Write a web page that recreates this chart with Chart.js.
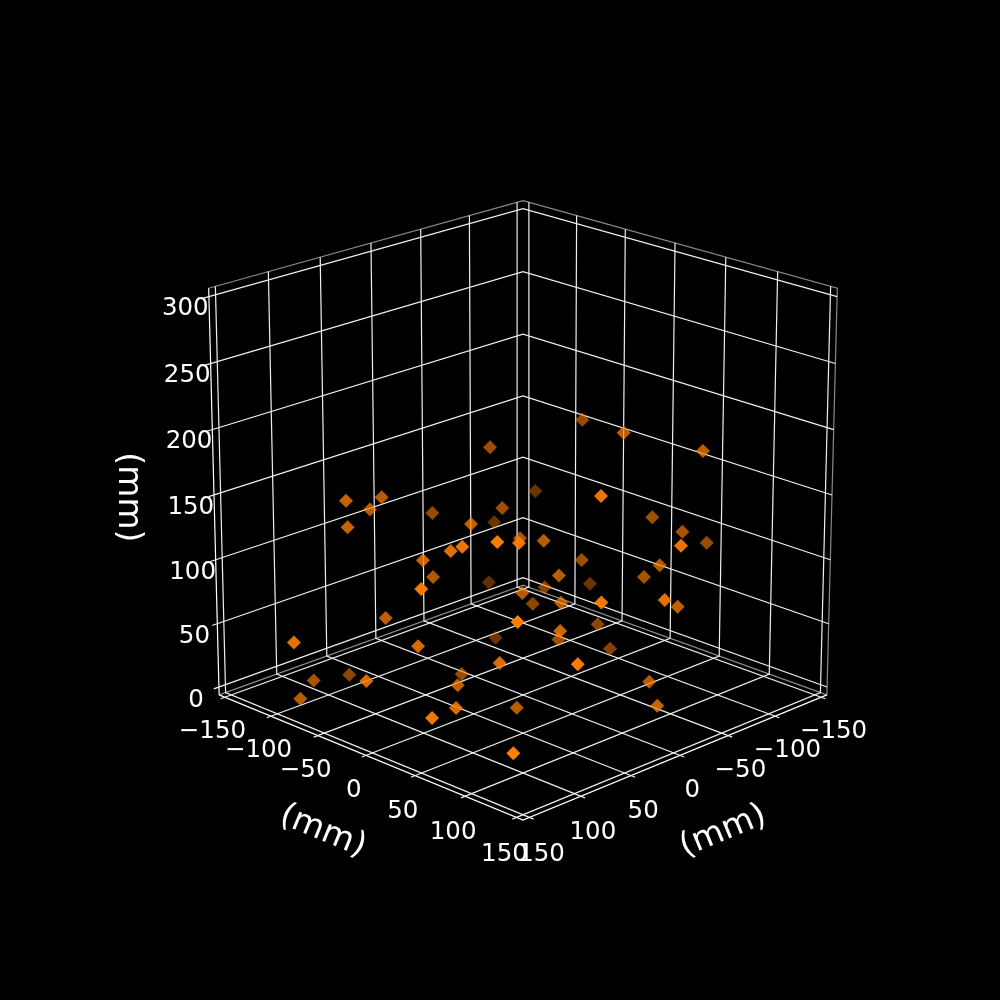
<!DOCTYPE html>
<html>
<head>
<meta charset="utf-8">
<style>html,body{margin:0;background:#000}canvas{display:block}</style>
<script src="https://cdn.jsdelivr.net/npm/chart.js@4/dist/chart.umd.min.js"></script>
</head>
<body>
<canvas id="c" width="1000" height="1000" style="width:1000px;height:1000px"></canvas>
<script>
// measured positions in mm
const xs = [-96.6,-91.5,-95.3,-91.1,-65.2,-74.1,-48.1,-91.5,-90.0,-35.1,-21.7,26.5,27.5,-1.2,-1.2,-14.4,-43.1,-55.4,-8.4,-90.0,-62.2,-6.9,-32.1,-29.4,55.3,12.7,18.5,-26.4,26.7,70.2,59.5,30.8,54.6,108.1,59.5,2.0,58.5,42.8,-28.7,105.4,84.5,83.8,7.9,38.7,4.0,-74.2,-20.5,-108.7,-112.0,-40.6,-97.8,-43.8,-13.8,9.3,19.0,-68.5,12.8,23.5,88.4,77.3,97.0,14.2,75.4];
const ys = [83.1,52.8,60.9,86.9,-31.2,-87.0,-26.8,2.3,-59.8,17.8,-18.6,30.5,53.1,-22.3,59.6,58.3,58.3,36.6,93.2,-54.1,77.6,-6.2,-54.6,-39.5,60.6,-24.0,-20.3,-87.7,-75.8,-113.0,-18.6,-102.5,-109.2,-50.1,-130.2,-58.5,-81.3,-81.5,-99.0,-36.8,-73.0,5.6,-69.6,1.0,-32.6,155.7,85.3,106.4,68.2,117.4,129.5,19.5,52.6,76.8,109.8,-39.8,-77.7,47.0,33.9,-51.6,-39.3,20.6,85.0];
const zs = [142.1,138.2,129.9,124.0,162.3,111.3,120.3,112.7,89.3,123.1,105.8,128.3,135.4,108.4,125.8,118.6,103.7,81.4,100.7,42.6,58.8,70.4,54.5,46.4,84.2,84.6,65.9,179.4,185.4,172.9,159.9,113.9,107.1,126.5,94.2,84.4,89.4,75.9,46.0,87.8,66.5,91.6,32.1,55.6,29.4,58.7,50.9,4.4,-3.1,27.4,0.2,3.2,12.8,9.1,14.2,7.9,11.6,39.6,53.7,11.8,2.4,-6.0,-3.4];
const ticksXY = [-150,-100,-50,0,50,100,150];
const ticksZ = [0,50,100,150,200,250,300];
const axisLabel = "(mm)";

// camera, fitted to the box corners of the picture
const elev = 20*Math.PI/180, sn = Math.sin(elev), cs = Math.cos(elev);
const dist = 20, scalePx = 218.5, cx = 523, cy = 495;
const L = 156.25, zMin = -6.25, zMax = 306.25, zSquash = .99;
const nearD = .35, depthSpan = 1.35;

function project(a, b, z) {
  const aN = a/L, bN = b/L, zN = (z-150)/L*zSquash;
  const t = (aN-bN)/Math.SQRT2, f = (aN+bN)/Math.SQRT2;
  const Y = zN*cs - f*sn, D = f*cs + zN*sn, k = 1 - D/dist;
  return {x: cx + scalePx*t/k, y: cy - scalePx*Y/k, D};
}
function line(color, ...p3) {
  return {type:'scatter', showLine:true, pointRadius:0, borderColor:color, borderWidth:1.2,
    data:p3.map(p=>{const r=project(p[0],p[1],p[2]);return {x:r.x,y:r.y};})};
}

// far points first, far points fade out
const shown = xs.map((v,i)=>project(v,ys[i],zs[i])).sort((p,q)=>p.D-q.D);
const sets = [];
sets.push({type:'scatter', pointStyle:'rectRot', pointRadius:7, borderWidth:0,
  data:shown.map(p=>({x:p.x,y:p.y})),
  pointBackgroundColor:shown.map(p=>'rgba(255,127,0,'+(1-.7*(nearD-p.D)/depthSpan)+')')});

const grey='#8a8a8a', white='#f0f0f0';
ticksXY.forEach(v=>{
  sets.push(line(white,[v,L+4,zMin],[v,-L,zMin],[v,-L,zMax]));
  sets.push(line(white,[L+4,v,zMin],[-L,v,zMin],[-L,v,zMax]));
});
ticksZ.forEach(v=>{
  sets.push(line(white,[L,-L,v],[-L,-L,v],[-L,L+5,v]));
});
sets.push(line('#fff',[-L,L,zMin],[L,L,zMin],[L,-L,zMin]));
sets.push(line('#fff',[-L,L,zMin],[-L,L,zMax]));
sets.push(line(grey,[-L,L,zMax],[-L,-L,zMax],[L,-L,zMax],[L,-L,zMin],[-L,-L,zMin],[-L,L,zMin]));

const labels = {
  id:'labels',
  afterDraw(chart){
    const c = chart.ctx, sx = chart.scales.x, sy = chart.scales.y;
    const at = (a,b,z)=>{const r=project(a,b,z);return [sx.getPixelForValue(r.x),sy.getPixelForValue(r.y)];};
    const put = (txt,pos,font,rot)=>{
      c.save();c.translate(pos[0],pos[1]);c.rotate(rot||0);
      c.font=font;c.fillStyle='#fff';c.textAlign='center';c.textBaseline='middle';
      c.fillText(txt,0,0);c.restore();
    };
    const f1='24.5px "DejaVu Sans"', f2='33px "DejaVu Sans"';
    const name = v => String(v).replace('-','\u2212');
    ticksXY.forEach(v=>{
      put(name(v),at(v*.985+39,L+48,zMin),f1);
      put(name(v),at(L+48,v*.985+39,zMin),f1);
    });
    ticksZ.forEach(v=>put(name(v),at(-L,L+22,v-4),f1));
    const p0=at(-L,L,zMin), p1=at(L,L,zMin);
    const ang=Math.atan2(p1[1]-p0[1],p1[0]-p0[0]);
    put(axisLabel,at(74,L+109,zMin),f2,ang);
    put(axisLabel,at(L+109,74,zMin),f2,-ang);
    put(axisLabel,at(-L,L+80,169),f2,Math.PI/2);
  }
};

new Chart(document.getElementById('c'),{
  type:'scatter',
  data:{datasets:sets},
  plugins:[labels],
  options:{responsive:false,animation:false,layout:{padding:0,autoPadding:false},
    plugins:{legend:{display:false},tooltip:{enabled:false},title:{display:false}},
    scales:{x:{type:'linear',min:0,max:1000,display:false},y:{type:'linear',min:0,max:1000,reverse:true,display:false}}}
});
</script>
</body>
</html>
